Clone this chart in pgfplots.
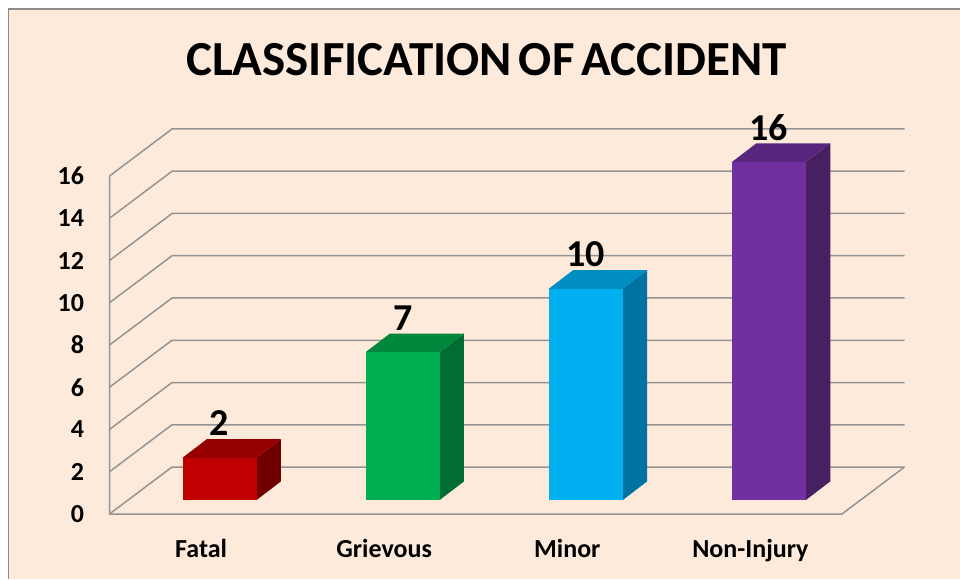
\documentclass[border=0pt]{standalone}
\usepackage{fontspec}
\setmainfont{Carlito}
\newfontfamily\titlefont[WordSpace=0.62,BoldFont={Carlito Bold}]{Carlito}
\usepackage{pgfplots}
\pgfplotsset{compat=1.18}
\definecolor{bg}{HTML}{FDEADA}
\definecolor{gridc}{HTML}{949494}
\definecolor{framec}{HTML}{8C8C8C}
\definecolor{rf}{RGB}{192,0,0}\definecolor{rt}{RGB}{150,0,0}\definecolor{rs}{RGB}{112,0,0}
\definecolor{gf}{RGB}{0,176,80}\definecolor{gt}{RGB}{0,135,60}\definecolor{gs}{RGB}{0,110,50}
\definecolor{bf}{RGB}{0,176,240}\definecolor{bt}{RGB}{0,141,192}\definecolor{bs}{RGB}{0,113,160}
\definecolor{pf}{RGB}{112,48,160}\definecolor{pt}{RGB}{88,38,125}\definecolor{ps}{RGB}{70,32,97}
\pgfplotsset{
  mywall/.style={draw=gridc,line width=1.5pt,mark=none},
  myface/.style={draw=none,mark=none,yshift=14pt},
  mybar/.style={ybar,bar width=74pt,bar shift=18.5pt,draw=none,yshift=14pt,mark=none,
    nodes near coords,
    nodes near coords style={anchor=base,xshift=18.5pt,yshift=22pt,text=black,
      font=\fontsize{38}{38}\selectfont\bfseries}},
}
\begin{document}
\begin{tikzpicture}
\useasboundingbox (0,0) rectangle (960pt,579pt);
\fill[bg] (8.5pt,0pt) rectangle (960pt,570pt);
\draw[framec,line width=1.5pt] (8.5pt,0pt) -- (8.5pt,570pt) -- (960pt,570pt);
\begin{axis}[
  at={(109.5pt,65pt)},anchor=south west,
  scale only axis,width=732.5pt,height=338pt,
  xmin=-0.5,xmax=3.5,ymin=0,ymax=16,clip=false,
  axis line style={draw=none},
  major tick length=0pt,
  xtick={0,1,2,3},
  xticklabels={Fatal,Grievous,Minor,Non-Injury},
  ytick={0,2,4,6,8,10,12,14,16},
  /pgf/number format/assume math mode=true,
  tick label style={font=\fontsize{26}{26}\selectfont\bfseries,text=black},
  x tick label style={yshift=-22pt},
  y tick label style={xshift=-22pt},
  title={CLASSIFICATION OF ACCIDENT},
  title style={at={(rel axis cs:0.5147,1.279)},anchor=base,
    font=\titlefont\fontsize{49}{49}\selectfont\bfseries},
]
% walls and floor
\addplot[mywall] coordinates {(-0.5,0)(-0.1587,2.225)(3.8413,2.225)};
\addplot[mywall] coordinates {(-0.5,2)(-0.1587,4.225)(3.8413,4.225)};
\addplot[mywall] coordinates {(-0.5,4)(-0.1587,6.225)(3.8413,6.225)};
\addplot[mywall] coordinates {(-0.5,6)(-0.1587,8.225)(3.8413,8.225)};
\addplot[mywall] coordinates {(-0.5,8)(-0.1587,10.225)(3.8413,10.225)};
\addplot[mywall] coordinates {(-0.5,10)(-0.1587,12.225)(3.8413,12.225)};
\addplot[mywall] coordinates {(-0.5,12)(-0.1587,14.225)(3.8413,14.225)};
\addplot[mywall] coordinates {(-0.5,14)(-0.1587,16.225)(3.8413,16.225)};
\addplot[mywall] coordinates {(-0.5,16)(-0.1587,18.225)(3.8413,18.225)};
\addplot[mywall] coordinates {(-0.5,16)(-0.5,0)(3.5,0)(3.8413,2.225)};
% Fatal
\addplot[myface,fill=rs] coordinates {(0.3031,0)(0.4358,0.88)(0.4358,2.88)(0.3031,2)};
\addplot[myface,fill=rt] coordinates {(-0.1011,2)(0.0316,2.88)(0.4358,2.88)(0.3031,2)};
\addplot[mybar,fill=rf] coordinates {(0,2)};
% Grievous
\addplot[myface,fill=gs] coordinates {(1.3031,0)(1.4358,0.88)(1.4358,7.88)(1.3031,7)};
\addplot[myface,fill=gt] coordinates {(0.8989,7)(1.0316,7.88)(1.4358,7.88)(1.3031,7)};
\addplot[mybar,fill=gf] coordinates {(1,7)};
% Minor
\addplot[myface,fill=bs] coordinates {(2.3031,0)(2.4358,0.88)(2.4358,10.88)(2.3031,10)};
\addplot[myface,fill=bt] coordinates {(1.8989,10)(2.0316,10.88)(2.4358,10.88)(2.3031,10)};
\addplot[mybar,fill=bf] coordinates {(2,10)};
% Non-Injury
\addplot[myface,fill=ps] coordinates {(3.3031,0)(3.4358,0.88)(3.4358,16.88)(3.3031,16)};
\addplot[myface,fill=pt] coordinates {(2.8989,16)(3.0316,16.88)(3.4358,16.88)(3.3031,16)};
\addplot[mybar,fill=pf] coordinates {(3,16)};
\end{axis}
\end{tikzpicture}
\end{document}
